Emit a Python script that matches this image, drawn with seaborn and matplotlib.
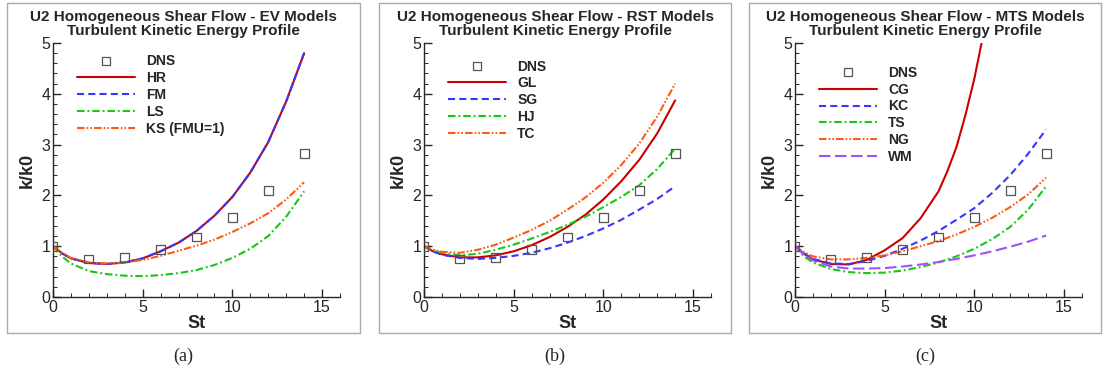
import numpy as np
import pandas as pd
import seaborn as sns
import matplotlib.pyplot as plt
from matplotlib.lines import Line2D
from matplotlib.patches import Rectangle
from matplotlib.ticker import MultipleLocator

sns.set_style("ticks")
plt.rcParams['font.family'] = ['Liberation Sans', 'DejaVu Sans']

# === Data ===
st = [0, 0.5, 1, 2, 3, 4, 5, 6, 7, 8, 9, 10, 11, 12, 13, 14]

dns_st = [0, 2, 4, 6, 8, 10, 12, 14]
dns_k = [1.0, 0.75, 0.78, 0.93, 1.18, 1.57, 2.10, 2.82]

# (a) EV models
hr_k = [1.0, 0.86, 0.76, 0.67, 0.65, 0.68, 0.76, 0.90, 1.07, 1.30, 1.60, 1.97, 2.45, 3.05, 3.85, 4.80]
fm_k = [1.0, 0.86, 0.76, 0.67, 0.65, 0.68, 0.76, 0.90, 1.07, 1.30, 1.60, 1.97, 2.45, 3.05, 3.85, 4.80]
ls_k = [1.0, 0.80, 0.66, 0.51, 0.45, 0.42, 0.41, 0.43, 0.47, 0.53, 0.63, 0.77, 0.95, 1.20, 1.58, 2.08]
ks_k = [1.0, 0.87, 0.77, 0.68, 0.66, 0.68, 0.73, 0.81, 0.91, 1.01, 1.13, 1.28, 1.45, 1.65, 1.92, 2.26]

# (b) RST models
gl_k = [1.0, 0.90, 0.84, 0.78, 0.78, 0.82, 0.90, 1.02, 1.18, 1.38, 1.62, 1.92, 2.28, 2.70, 3.22, 3.87]
sg_k = [1.0, 0.90, 0.83, 0.77, 0.75, 0.77, 0.81, 0.87, 0.96, 1.07, 1.20, 1.35, 1.52, 1.72, 1.93, 2.18]
hj_k = [1.0, 0.92, 0.87, 0.82, 0.85, 0.93, 1.03, 1.15, 1.28, 1.42, 1.58, 1.77, 1.97, 2.20, 2.52, 2.92]
tc_k = [1.0, 0.93, 0.89, 0.87, 0.93, 1.03, 1.17, 1.32, 1.50, 1.72, 1.96, 2.25, 2.60, 3.02, 3.55, 4.20]

# (c) MTS models
cg_st = [0, 0.5, 1, 2, 3, 4, 5, 6, 7, 8, 8.5, 9, 9.5, 10, 10.4]
cg_k = [1.0, 0.85, 0.74, 0.65, 0.64, 0.73, 0.92, 1.16, 1.55, 2.08, 2.48, 2.95, 3.58, 4.3, 5.0]
kc_k = [1.0, 0.86, 0.75, 0.66, 0.65, 0.71, 0.81, 0.95, 1.11, 1.30, 1.52, 1.75, 2.05, 2.40, 2.82, 3.30]
ts_k = [1.0, 0.80, 0.68, 0.55, 0.49, 0.47, 0.48, 0.52, 0.59, 0.68, 0.80, 0.95, 1.14, 1.38, 1.72, 2.18]
ng_k = [1.0, 0.88, 0.80, 0.74, 0.74, 0.77, 0.82, 0.90, 1.00, 1.10, 1.23, 1.38, 1.56, 1.77, 2.02, 2.35]
wm_k = [1.0, 0.83, 0.72, 0.60, 0.56, 0.56, 0.57, 0.60, 0.64, 0.69, 0.75, 0.82, 0.90, 0.99, 1.09, 1.21]

# === Styles ===
RED, BLUE, GREEN, ORANGE, PURPLE = '#cc0000', '#3636ff', '#14c814', '#ff5a14', '#a050ff'
SOLID = None
DASH = (3.4, 2.0)
DASHDOT = (3.6, 1.4, 0.9, 1.4)
DASHDOTDOT = (3.6, 1.0, 0.8, 1.0, 0.8, 1.0)
LONGDASH = (5.5, 2.2)

panels = [
    dict(title="U2 Homogeneous Shear Flow - EV Models", tag="(a)", legend_y=0.955,
         series=[("HR", st, hr_k, RED, SOLID), ("FM", st, fm_k, BLUE, DASH),
                 ("LS", st, ls_k, GREEN, DASHDOT), ("KS (FMU=1)", st, ks_k, ORANGE, DASHDOTDOT)]),
    dict(title="U2 Homogeneous Shear Flow - RST Models", tag="(b)", legend_y=0.935,
         series=[("GL", st, gl_k, RED, SOLID), ("SG", st, sg_k, BLUE, DASH),
                 ("HJ", st, hj_k, GREEN, DASHDOT), ("TC", st, tc_k, ORANGE, DASHDOTDOT)]),
    dict(title="U2 Homogeneous Shear Flow - MTS Models", tag="(c)", legend_y=0.91,
         series=[("CG", cg_st, cg_k, RED, SOLID), ("KC", st, kc_k, BLUE, DASH),
                 ("TS", st, ts_k, GREEN, DASHDOT), ("NG", st, ng_k, ORANGE, DASHDOTDOT),
                 ("WM", st, wm_k, PURPLE, LONGDASH)]),
]

# === Figure layout (pixel geometry of the original) ===
W, H = 1109, 381
fig = plt.figure(figsize=(W / 100, H / 100), dpi=100)
axes_left = [53, 424, 795]
frames = [(7, 360), (379, 731), (749, 1101)]
ax_w, ax_top, ax_bot = 287, 43, 297

for p, left, (fl, fr) in zip(panels, axes_left, frames):
    # grey frame around each panel
    fig.patches.append(Rectangle((fl / W, 1 - 333 / H), (fr - fl) / W, (333 - 3) / H,
                                 transform=fig.transFigure, fill=False,
                                 edgecolor='#aaaaaa', linewidth=1.0))
    ax = fig.add_axes([left / W, 1 - ax_bot / H, ax_w / W, (ax_bot - ax_top) / H])
    ax.patch.set_alpha(0)

    sns.scatterplot(x=dns_st, y=dns_k, ax=ax, marker='s', s=40, facecolor='none',
                    edgecolor='#555555', linewidth=0.9, zorder=5)
    handles = [Line2D([], [], ls='none', marker='s', ms=6, mfc='none', mec='#555555', mew=0.9)]
    labels = ["DNS"]
    for name, xs, ys, col, dash in p["series"]:
        df = pd.DataFrame({"St": xs, "k": ys})
        kw = dict(color=col, linewidth=1.5, sort=False, estimator=None)
        if dash is not None:
            kw["dashes"] = dash
        sns.lineplot(data=df, x="St", y="k", ax=ax, **kw)
        h = Line2D([], [], color=col, linewidth=1.5)
        if dash is not None:
            h.set_dashes(dash)
        handles.append(h)
        labels.append(name)

    ax.set_xlim(0, 16)
    ax.set_ylim(0, 5)
    ax.xaxis.set_major_locator(MultipleLocator(5))
    ax.xaxis.set_minor_locator(MultipleLocator(1))
    ax.yaxis.set_major_locator(MultipleLocator(1))
    ax.yaxis.set_minor_locator(MultipleLocator(0.2))
    ax.tick_params(which='major', direction='in', length=6, width=1, labelsize=11.5, pad=2)
    ax.tick_params(which='minor', direction='in', length=3, width=0.7)
    for s in ['top', 'right']:
        ax.spines[s].set_visible(False)
    for s in ['left', 'bottom']:
        ax.spines[s].set_linewidth(1.0)
    ax.set_xlabel("St", fontsize=13, fontweight='bold', labelpad=0)
    ax.set_ylabel("k/k0", fontsize=13, fontweight='bold', labelpad=4)

    leg = ax.legend(handles, labels, loc='upper left', bbox_to_anchor=(0.083, p["legend_y"]),
                    frameon=False, handlelength=4.2, handletextpad=0.8, labelspacing=0.2,
                    borderaxespad=0, borderpad=0, prop=dict(size=10, weight='bold'))

    cx = (fl + fr) / 2 / W
    fig.text(cx, 1 - 10 / H, p["title"] + "\nTurbulent Kinetic Energy Profile", ha='center', va='top',
             fontsize=11, fontweight='bold', linespacing=1.0)
    fig.text(cx, 1 - 356 / H, p["tag"], ha='center', va='center',
             fontsize=13, family=['Liberation Serif', 'DejaVu Serif'])

plt.savefig("out.png", dpi=100)
